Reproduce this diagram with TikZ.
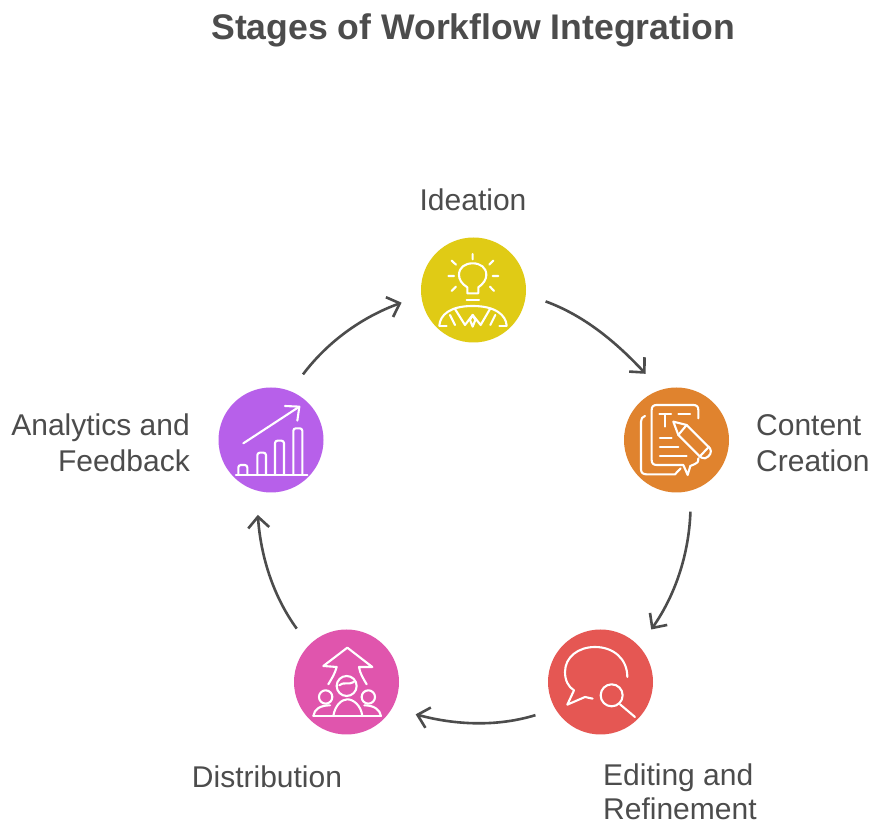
\documentclass[tikz,border=0pt]{standalone}
\usepackage{fontspec}
\setmainfont{Liberation Sans}
\usetikzlibrary{arrows.meta}
\definecolor{txt}{HTML}{4C4C4C}
\definecolor{cyellow}{HTML}{E0CB15}
\definecolor{corange}{HTML}{E0832E}
\definecolor{cred}{HTML}{E55753}
\definecolor{cpink}{HTML}{E055AD}
\definecolor{cpurple}{HTML}{B760EA}
\tikzset{
  stage/.style={circle,minimum size=105pt,inner sep=0pt,outer sep=20.5pt},
  lab/.style={text=txt,font=\fontsize{30}{35.5}\selectfont,inner sep=0pt},
  conn/.style={draw=txt,line width=2.6pt,looseness=.87,-{Straight Barb[length=11pt,width=21pt,line width=2.6pt]}},
  ico/.style={draw=white,line width=2.1pt,line cap=round,line join=round},
}
\newcommand{\iconat}[2]{\begin{scope}[shift={(#1,827-#2)},x=.3333pt,y=-.3333pt]}
\begin{document}
\begin{tikzpicture}[x=1pt,y=1pt]
\useasboundingbox (0,0) rectangle (871,827);
\fill[white] (0,0) rectangle (871,827);
\node[text=txt,font=\fontsize{35.6}{40}\bfseries,inner sep=0pt] (title) at (473,797) {Stages of Workflow Integration};

\node[stage,fill=cyellow] (ideation) at (473.5,537) {};
\node[stage,fill=corange] (content) at (676.5,387) {};
\node[stage,fill=cred] (editing) at (600.5,145) {};
\node[stage,fill=cpink] (distribution) at (346.5,145) {};
\node[stage,fill=cpurple] (analytics) at (271,387) {};

\node[lab] (l1) at (473,627) {Ideation};
\node[lab,anchor=west,align=left] (l2) at (756,384) {Content\\Creation};
\node[lab,anchor=west,align=left,font=\fontsize{30}{34}\selectfont] (l3) at (603,35) {Editing and\\Refinement};
\node[lab] (l4) at (267,50) {Distribution};
\node[lab,anchor=east,align=right] (l5) at (190,384) {Analytics and\\Feedback};

\draw[conn] (ideation.-9.5) to[out=-20,in=133] (content.115);
\draw[conn] (content.-79) to[out=-92,in=55] (editing.46.6);
\draw[conn] (editing.-153) to[out=-163,in=-15] ([shift={(3,-1.5)}]distribution.-25);
\draw[conn] (distribution.133) to[out=126,in=-86] ([shift={(-.5,-3)}]analytics.-100);
\draw[conn] (analytics.64.5) to[out=53,in=200] (ideation.-170.7);

% Ideation icon
\iconat{410}{230}
\draw[ico] (188,72)--(188,88) (125,92)--(138,104) (250,92)--(238,104) (115,138)--(132,138) (248,138)--(265,138) (125,183)--(138,170) (252,183)--(240,170);
\draw[ico] (172,190)--(172,172) .. controls (155,162) and (147,148) .. (147,135) .. controls (147,112) and (165,100) .. (188,100) .. controls (211,100) and (229,112) .. (229,135) .. controls (229,148) and (220,162) .. (205,172) -- (205,190) -- cycle;
\draw[ico] (170,210)--(207,210);
\draw[ico] (88,287) .. controls (90,255) and (120,228) .. (188,228) .. controls (256,228) and (288,255) .. (290,287);
\draw[ico] (88,287)--(110,287) (268,287)--(290,287);
\draw[ico] (120,255)--(135,285) (256,255)--(241,285);
\draw[ico] (135,237)--(165,285)--(188,255)--(212,285)--(240,237);
\draw[ico] (188,255)--(180,270)--(188,290)--(196,270)--cycle;
\end{scope}

% Content icon
\iconat{615}{380}
\draw[ico] (90,108) .. controls (82,110) and (78,116) .. (78,125) -- (78,268) .. controls (78,278) and (84,283) .. (94,283) -- (180,283) -- (197,265);
\draw[ico] (250,115)--(250,90) .. controls (250,80) and (245,75) .. (235,75) -- (125,75) .. controls (115,75) and (110,80) .. (110,90) -- (110,240) .. controls (110,250) and (115,255) .. (125,255) -- (205,255) -- (218,285) -- (226,258) -- (240,252) .. controls (248,250) and (250,245) .. (250,235);
\draw[ico] (133,102)--(168,102) (150,102)--(150,140) (190,102)--(225,102);
\draw[ico] (135,173)--(170,173) (135,200)--(190,200) (135,228)--(215,228);
\draw[ico,fill=corange] (175,125) -- (215,135) -- (285,205) .. controls (292,215) and (285,230) .. (270,235) .. controls (262,235) and (258,232) .. (255,230) -- (190,165) -- cycle;
\draw[ico] (215,135)--(190,165) (254,230)--(282,200);
\end{scope}

% Editing icon
\iconat{540}{622}
\draw[ico] (262,165) .. controls (262,110) and (220,75) .. (165,75) .. controls (115,75) and (75,105) .. (75,150) .. controls (75,175) and (85,195) .. (102,205) -- (82,248) -- (135,225) -- (158,230);
\draw[ico] (215,220) circle [radius=33];
\draw[ico] (240,247)--(285,285);
\end{scope}

% Distribution icon
\iconat{285}{622}
\draw[ico] (130,187) .. controls (140,170) and (150,155) .. (155,135) -- (115,132) -- (187,77) -- (262,135) -- (222,135) .. controls (225,155) and (235,170) .. (245,187);
\draw[ico] (185,192) circle [radius=30];
\draw[ico] (163,190) .. controls (175,178) and (190,190) .. (207,180);
\draw[ico] (122,225) circle [radius=20];
\draw[ico] (250,225) circle [radius=20];
\draw[ico] (85,282) -- (288,282);
\draw[ico] (85,282) .. controls (88,262) and (105,250) .. (135,250);
\draw[ico] (288,282) .. controls (285,262) and (265,250) .. (238,250);
\draw[ico] (145,282) .. controls (150,250) and (170,232) .. (187,232) .. controls (205,232) and (228,250) .. (232,282);
\end{scope}

% Analytics icon
\iconat{210}{380}
\draw[ico] (100,190)--(265,82);
\draw[ico] (225,78)--(268,80)--(262,122);
\draw[ico] (78,285)--(292,285);
\draw[ico,rounded corners=2.5pt] (85,285)--(85,255)--(112,255)--(112,285);
\draw[ico,rounded corners=2.5pt] (142,285)--(142,218)--(168,218)--(168,285);
\draw[ico,rounded corners=2.5pt] (195,285)--(195,182)--(222,182)--(222,285);
\draw[ico,rounded corners=2.5pt] (250,285)--(250,145)--(277,145)--(277,285);
\end{scope}
\end{tikzpicture}
\end{document}
